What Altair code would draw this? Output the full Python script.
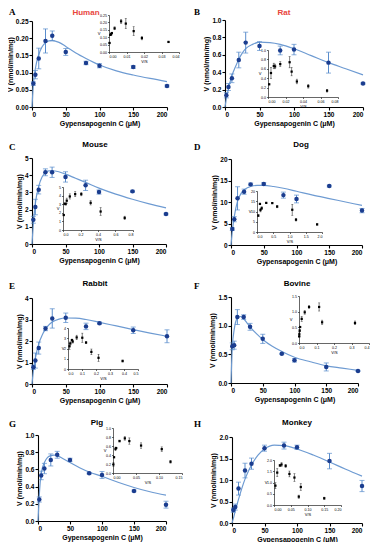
import altair as alt
import pandas as pd

# ---------------- data ----------------
S = [2, 5, 10, 20, 30, 50, 80, 100, 150, 200]
CX = [0, 2, 5, 10, 15, 20, 25, 30, 40, 50, 65, 80, 100, 125, 150, 175, 200]

human_v = [0.068, 0.094, 0.141, 0.192, 0.207, 0.160, 0.128, 0.120, 0.116, 0.061]
human_e = [0.005, 0.012, 0.030, 0.035, 0.014, 0.010, 0.005, 0.006, 0.004, 0.003]
human_c = [0, 0.065, 0.112, 0.152, 0.175, 0.187, 0.192, 0.193, 0.188, 0.176, 0.157, 0.141, 0.122, 0.105, 0.093, 0.083, 0.074]
human_r = [0.034, 0.0188, 0.0141, 0.0096, 0.0069, 0.0032, 0.0016, 0.0012, 0.00077, 0.0003]

rat_v = [0.135, 0.23, 0.33, 0.54, 0.74, 0.70, 0.65, 0.66, 0.51, 0.27]
rat_e = [0.03, 0.04, 0.05, 0.09, 0.12, 0.05, 0.05, 0.06, 0.12, 0.01]
rat_c = [0, 0.10, 0.21, 0.36, 0.46, 0.55, 0.62, 0.67, 0.72, 0.745, 0.74, 0.72, 0.67, 0.59, 0.51, 0.44, 0.37]
rat_r = [0.0675, 0.046, 0.033, 0.027, 0.0247, 0.014, 0.0081, 0.0066, 0.0034, 0.00135]

mouse_v = [1.41, 2.15, 3.16, 4.17, 4.17, 3.90, 3.41, 3.02, 3.06, 1.74]
mouse_e = [0.2, 0.45, 0.25, 0.2, 0.3, 0.3, 0.3, 0.12, 0.06, 0.05]
mouse_c = [0, 1.2, 2.35, 3.35, 3.9, 4.15, 4.25, 4.26, 4.2, 4.06, 3.82, 3.58, 3.25, 2.9, 2.6, 2.33, 2.1]
mouse_r = [0.705, 0.43, 0.316, 0.209, 0.139, 0.078, 0.043, 0.030, 0.020, 0.0087]

dog_v = [3.7, 6.0, 10.85, 12.4, 14.1, 14.2, 11.6, 10.7, 13.7, 8.0]
dog_e = [0.3, 0.6, 2.7, 0.6, 0.3, 0.3, 0.7, 0.9, 0.2, 0.5]
dog_c = [0, 3.2, 6.6, 10.2, 11.9, 12.8, 13.3, 13.6, 13.85, 13.85, 13.6, 13.2, 12.5, 11.6, 10.8, 10.0, 9.2]
dog_r = [1.85, 1.2, 1.085, 0.62, 0.47, 0.284, 0.145, 0.107, 0.091, 0.04]

rabbit_v = [0.78, 1.09, 1.67, 2.58, 3.05, 3.08, 2.68, 2.83, 2.5, 2.22]
rabbit_e = [0.1, 0.35, 0.28, 0.1, 0.45, 0.22, 0.15, 0.05, 0.15, 0.3]
rabbit_c = [0, 0.6, 1.2, 1.87, 2.27, 2.55, 2.75, 2.88, 3.02, 3.07, 3.06, 3.0, 2.87, 2.7, 2.53, 2.37, 2.22]
rabbit_r = [0.39, 0.218, 0.167, 0.129, 0.102, 0.062, 0.0335, 0.028, 0.0167, 0.011]

bovine_v = [0.64, 0.66, 1.15, 1.15, 0.98, 0.77, 0.51, 0.395, 0.28, 0.21]
bovine_e = [0.06, 0.07, 0.13, 0.04, 0.06, 0.08, 0.01, 0.03, 0.07, 0.01]
bovine_c = [0, 0.62, 0.93, 1.13, 1.16, 1.12, 1.05, 0.98, 0.86, 0.76, 0.64, 0.55, 0.45, 0.37, 0.30, 0.26, 0.22]
bovine_r = [0.32, 0.132, 0.115, 0.0575, 0.0327, 0.0154, 0.0064, 0.004, 0.0019, 0.00105]

pig_v = [0.25, 0.53, 0.61, 0.71, 0.77, 0.71, 0.555, 0.535, 0.35, 0.19]
pig_e = [0.03, 0.05, 0.06, 0.07, 0.04, 0.02, 0.01, 0.04, 0.01, 0.04]
pig_c = [0, 0.30, 0.55, 0.68, 0.74, 0.76, 0.765, 0.76, 0.72, 0.68, 0.62, 0.57, 0.52, 0.45, 0.39, 0.34, 0.30]
pig_r = [0.125, 0.106, 0.061, 0.0355, 0.0257, 0.0142, 0.0069, 0.0054, 0.0023, 0.00095]

monkey_v = [0.30, 0.37, 0.80, 1.22, 1.38, 1.74, 1.80, 1.76, 1.44, 0.86]
monkey_e = [0.05, 0.07, 0.15, 0.17, 0.13, 0.07, 0.08, 0.05, 0.18, 0.13]
monkey_c = [0, 0.10, 0.28, 0.55, 0.80, 1.02, 1.20, 1.35, 1.58, 1.72, 1.81, 1.80, 1.72, 1.58, 1.42, 1.25, 1.09]
monkey_r = [0.15, 0.074, 0.08, 0.061, 0.046, 0.0348, 0.0225, 0.0176, 0.0096, 0.0043]

X_TICKS = [0, 50, 100, 150, 200]

# ---------------- layout ----------------
W, H = 362, 534
PT = "#1b3d8f"
ERR = "#5a8dcc"
CURVE = "#6e9bd2"
RED = "#e8453c"
FONT = "Liberation Sans"

main_ax = dict(grid=False, domainColor="black", tickColor="black", labelColor="black",
               titleColor="black", domainWidth=1.1, tickWidth=1.1, tickSize=3,
               labelFont=FONT, titleFont=FONT, labelFontSize=6.5, labelFontWeight="bold",
               titleFontSize=7, titleFontWeight="bold", labelPadding=1, titlePadding=2)
ins_ax = dict(grid=False, domainColor="black", tickColor="black", labelColor="black",
              titleColor="black", domainWidth=0.6, tickWidth=0.6, tickSize=1.5,
              labelFont=FONT, titleFont=FONT, labelFontSize=3.6, titleFontSize=4,
              titleFontWeight="normal", labelPadding=1, titlePadding=1)


def panel(name, letter, v, e, c, r, yticks, yfmt, rticks, rfmt, iyticks, iyfmt,
          mx, my, ix, iy, txy, lxy, tcolor="black"):
    lo = [a - b for a, b in zip(v, e)]
    hi = [a + b for a, b in zip(v, e)]
    main = pd.DataFrame({"S": S, "V": v, "lo": lo, "hi": hi})
    cdf = pd.DataFrame({"S": CX, "V": c})
    ins = pd.DataFrame({"R": r, "V": v, "lo": lo, "hi": hi})

    xs = alt.Scale(domain=[0, 200], range=mx, nice=False, zero=False)
    ys = alt.Scale(domain=[yticks[0], yticks[-1]], range=my, nice=False, zero=False)
    xax = alt.Axis(orient="bottom", offset=my[0] - H, values=X_TICKS, format="d",
                   title="Gypensapogenin C (μM)", **main_ax)
    yax = alt.Axis(orient="left", offset=-mx[0], values=yticks, format=yfmt,
                   title="V (nmol/min/mg)", **main_ax)
    X = alt.X("S:Q", scale=xs, axis=xax)

    base = alt.Chart(main)
    line = alt.Chart(cdf).mark_line(color=CURVE, strokeWidth=1.2, interpolate="monotone").encode(
        x=X, y=alt.Y("V:Q", scale=ys, axis=yax))
    rule = base.mark_rule(color=ERR, strokeWidth=1).encode(
        x=X, y=alt.Y("lo:Q", scale=ys, axis=yax), y2="hi:Q")
    cap1 = base.mark_tick(color=ERR, orient="horizontal", size=5, thickness=1).encode(
        x=X, y=alt.Y("lo:Q", scale=ys, axis=yax))
    cap2 = base.mark_tick(color=ERR, orient="horizontal", size=5, thickness=1).encode(
        x=X, y=alt.Y("hi:Q", scale=ys, axis=yax))
    pts = base.mark_circle(color=PT, size=20, opacity=1).encode(
        x=X, y=alt.Y("V:Q", scale=ys, axis=yax))
    main_layer = alt.layer(line, rule, cap1, cap2, pts)

    ixs = alt.Scale(domain=[rticks[0], rticks[-1]], range=ix, nice=False, zero=False)
    iys = alt.Scale(domain=[iyticks[0], iyticks[-1]], range=iy, nice=False, zero=False)
    ixax = alt.Axis(orient="bottom", offset=iy[0] - H, values=rticks, format=rfmt,
                    title="V/S", **ins_ax)
    iyax = alt.Axis(orient="left", offset=-ix[0], values=iyticks, format=iyfmt,
                    title="V", titleAngle=0, titleBaseline="middle", **ins_ax)
    IX = alt.X("R:Q", scale=ixs, axis=ixax)
    ib = alt.Chart(ins)
    irule = ib.mark_rule(color="black", strokeWidth=0.5).encode(
        x=IX, y=alt.Y("lo:Q", scale=iys, axis=iyax), y2="hi:Q")
    ic1 = ib.mark_tick(color="black", orient="horizontal", size=2, thickness=0.5).encode(
        x=IX, y=alt.Y("lo:Q", scale=iys, axis=iyax))
    ic2 = ib.mark_tick(color="black", orient="horizontal", size=2, thickness=0.5).encode(
        x=IX, y=alt.Y("hi:Q", scale=iys, axis=iyax))
    ipts = ib.mark_square(color="black", size=5, opacity=1).encode(
        x=IX, y=alt.Y("V:Q", scale=iys, axis=iyax))
    ins_layer = alt.layer(irule, ic1, ic2, ipts)

    ttl = alt.Chart(pd.DataFrame({"t": [name]})).mark_text(
        font=FONT, fontSize=8, fontWeight="bold", color=tcolor, align="center",
        baseline="alphabetic").encode(x=alt.value(txy[0]), y=alt.value(txy[1]), text="t:N")
    let = alt.Chart(pd.DataFrame({"t": [letter]})).mark_text(
        font="Liberation Serif", fontSize=9, fontWeight="bold", color="black", align="left",
        baseline="alphabetic").encode(x=alt.value(lxy[0]), y=alt.value(lxy[1]), text="t:N")
    return [main_layer, ins_layer, ttl, let]


layers = []
layers += panel("Human", "A", human_v, human_e, human_c, human_r,
                [0, 0.05, 0.1, 0.15, 0.2, 0.25], ".2f",
                [0, 0.01, 0.02, 0.03, 0.04], ".2f",
                [0, 0.05, 0.1, 0.15, 0.2, 0.25], ".2f",
                [24, 159], [99, 13], [101, 171], [44, 7], (78, 7), (1, 7), RED)
layers += panel("Rat", "B", rat_v, rat_e, rat_c, rat_r,
                [0, 0.2, 0.4, 0.6, 0.8, 1.0], ".1f",
                [0, 0.02, 0.04, 0.06, 0.08], ".2f",
                [0, 0.2, 0.4, 0.6, 0.8, 1.0], ".1f",
                [217, 355], [99, 12], [260, 330], [89, 42], (276, 7), (186, 7), RED)
layers += panel("Mouse", "C", mouse_v, mouse_e, mouse_c, mouse_r,
                [0, 1, 2, 3, 4, 5], "d",
                [0, 0.2, 0.4, 0.6, 0.8], ".1f",
                [0, 1, 2, 3, 4, 5], "d",
                [24, 158], [236, 150], [55, 125], [222, 179], (87, 139), (1, 142))
layers += panel("Dog", "D", dog_v, dog_e, dog_c, dog_r,
                [0, 5, 10, 15, 20], "d",
                [0, 0.5, 1.0, 1.5, 2.0], ".1f",
                [0, 5, 10, 15, 20], "d",
                [223, 354], [237, 151], [249, 314], [224, 183], (293, 139), (186, 142))
layers += panel("Rabbit", "E", rabbit_v, rabbit_e, rabbit_c, rabbit_r,
                [0, 1, 2, 3, 4], "d",
                [0, 0.1, 0.2, 0.3, 0.4, 0.5], ".1f",
                [0, 1, 2, 3, 4], "d",
                [24, 159], [376, 290], [60, 130], [361, 320], (87, 278), (1, 281))
layers += panel("Bovine", "F", bovine_v, bovine_e, bovine_c, bovine_r,
                [0, 0.5, 1.0, 1.5], ".1f",
                [0, 0.1, 0.2, 0.3, 0.4], ".1f",
                [0, 0.5, 1.0, 1.5], ".1f",
                [223, 350], [375, 289], [291, 361], [335, 288], (289, 278), (186, 281))
layers += panel("Pig", "G", pig_v, pig_e, pig_c, pig_r,
                [0, 0.2, 0.4, 0.6, 0.8, 1.0], ".1f",
                [0, 0.05, 0.10, 0.15], ".2f",
                [0, 0.2, 0.4, 0.6, 0.8, 1.0], ".1f",
                [30, 158], [513, 427], [105, 174], [465, 420], (89, 417), (1, 419))
layers += panel("Monkey", "H", monkey_v, monkey_e, monkey_c, monkey_r,
                [0, 0.5, 1.0, 1.5, 2.0], ".1f",
                [0, 0.05, 0.10, 0.15, 0.20], ".2f",
                [0, 0.5, 1.0, 1.5, 2.0], ".1f",
                [224, 354], [515, 429], [266, 333], [497, 452], (289, 417), (186, 419))

chart = alt.layer(*layers).resolve_scale(
    x="independent", y="independent"
).resolve_axis(
    x="independent", y="independent"
).properties(
    width=W, height=H, autosize=alt.AutoSizeParams(type="none"), padding=0
).configure_view(stroke=None)

chart.save("out.html", embed_options={"renderer": "svg", "actions": False})
